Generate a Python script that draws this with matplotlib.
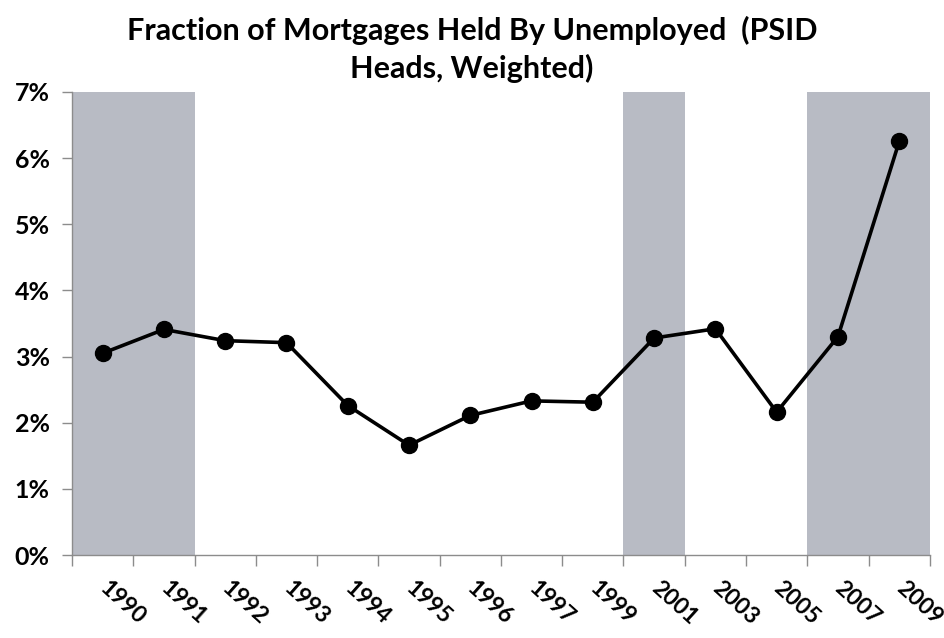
import numpy as np
import matplotlib
matplotlib.use("Agg")
import matplotlib.pyplot as plt
from matplotlib.ticker import FuncFormatter

# data
years = ["1990", "1991", "1992", "1993", "1994", "1995", "1996",
         "1997", "1999", "2001", "2003", "2005", "2007", "2009"]
share = [3.05, 3.41, 3.24, 3.21, 2.26, 1.66, 2.11,
         2.33, 2.31, 3.28, 3.42, 2.16, 3.30, 6.25]
recession_years = ["1990", "1991", "2001", "2007", "2009"]
y_max = 7

plt.rcParams['font.family'] = ['Lato', 'DejaVu Sans']

fig = plt.figure(figsize=(9.44, 6.38), dpi=100)
ax = fig.add_axes([0.0763, 0.130, 0.9087, 0.726])

# shaded recession columns, one category wide each
rec_idx = [years.index(y) for y in recession_years]
ax.bar(rec_idx, [y_max] * len(rec_idx), width=1.0, align='edge',
       color='#b8bbc4', linewidth=0, zorder=1)

x = np.arange(len(years)) + 0.5
ax.plot(x, share, color='black', lw=2.6, marker='o', ms=11.5,
        markerfacecolor='black', zorder=3)

ax.set_xlim(0, len(years))
ax.set_ylim(0, y_max)

# category boundaries carry the tick marks, labels sit at the centres
ax.set_xticks(np.arange(len(years) + 1))
ax.set_xticklabels([])
ax.set_xticks(x, minor=True)
ax.set_xticklabels(years, minor=True, rotation=-42, ha='left', va='center',
                   rotation_mode='anchor', fontsize=16.5, fontweight='bold')
ax.tick_params(axis='x', which='major', length=8, color='#8c8c8c', width=1)
ax.tick_params(axis='x', which='minor', length=0, pad=22)

ax.set_yticks(range(y_max + 1))
ax.yaxis.set_major_formatter(FuncFormatter(lambda v, p: '%d%%' % v))
ax.tick_params(axis='y', length=7, color='#8c8c8c', width=1, pad=9,
               labelsize=18)
for lab in ax.get_yticklabels():
    lab.set_fontweight('bold')

for side in ['top', 'right']:
    ax.spines[side].set_visible(False)
for side in ['left', 'bottom']:
    ax.spines[side].set_color('#8c8c8c')
    ax.spines[side].set_linewidth(1)

fig.suptitle("Fraction of Mortgages Held By Unemployed  (PSID\nHeads, Weighted)",
             x=0.5, y=0.975, fontsize=22, fontweight='bold', linespacing=1.35,
             va='top')

fig.savefig("out.png", dpi=100)
